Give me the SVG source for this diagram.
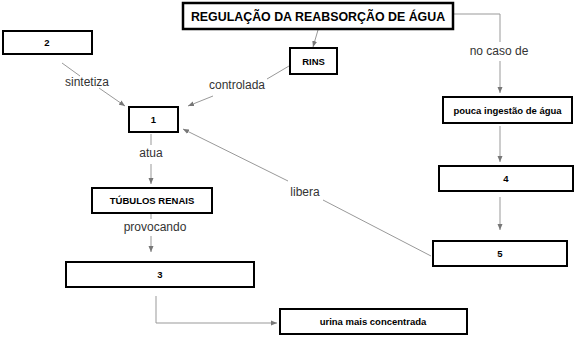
<svg xmlns="http://www.w3.org/2000/svg" width="577" height="337" viewBox="0 0 577 337">
<defs>
<style>
.box{fill:#fff;stroke:#000;stroke-width:2}
.nt{font-family:"Liberation Sans",Arial,sans-serif;font-weight:bold;font-size:9.5px;fill:#000;text-anchor:middle}
.tt{font-family:"Liberation Sans",Arial,sans-serif;font-weight:bold;font-size:12.4px;fill:#000;text-anchor:middle}
.lb{font-family:"Liberation Sans",Arial,sans-serif;font-size:12px;fill:#333;text-anchor:middle}
.c{fill:none;stroke:#999;stroke-width:1}
</style>
<marker id="ah" viewBox="0 0 6 6" refX="6" refY="3" markerWidth="6" markerHeight="6" markerUnits="userSpaceOnUse" orient="auto">
<path d="M0,0.5 L6,3 L0,5.5 Z" fill="#777"/>
</marker>
</defs>
<rect width="577" height="337" fill="#fff"/>
<g id="connectors">
<line class="c" x1="318" y1="30" x2="313" y2="47" marker-end="url(#ah)"/>
<polyline class="c" points="454,14 500,14 500,42"/>
<line class="c" x1="500" y1="61" x2="500" y2="93" marker-end="url(#ah)"/>
<text class="lb" x="499" y="55">no caso de</text>
<line class="c" x1="289" y1="66" x2="267" y2="79"/>
<line class="c" x1="213" y1="96" x2="188" y2="106" marker-end="url(#ah)"/>
<text class="lb" x="237" y="89">controlada</text>
<line class="c" x1="62" y1="63" x2="80" y2="76"/>
<line class="c" x1="99" y1="88" x2="125" y2="106" marker-end="url(#ah)"/>
<text class="lb" x="87" y="86">sintetiza</text>
<line class="c" x1="151" y1="134" x2="151" y2="145"/>
<line class="c" x1="151" y1="164" x2="151" y2="184" marker-end="url(#ah)"/>
<text class="lb" x="151" y="157">atua</text>
<line class="c" x1="151" y1="214" x2="151" y2="219"/>
<line class="c" x1="151" y1="236" x2="151" y2="252" marker-end="url(#ah)"/>
<text class="lb" x="155" y="231">provocando</text>
<line class="c" x1="500" y1="126" x2="500" y2="162" marker-end="url(#ah)"/>
<line class="c" x1="500" y1="197" x2="500" y2="230" marker-end="url(#ah)"/>
<line class="c" x1="431" y1="256" x2="323" y2="200"/>
<line class="c" x1="288" y1="181" x2="183" y2="129" marker-end="url(#ah)"/>
<text class="lb" x="305" y="196">libera</text>
<polyline class="c" points="156,296 156,323 277,323" marker-end="url(#ah)"/>
</g>
<g id="title">
<rect x="183" y="3" width="270" height="26" fill="#fff" stroke="#000" stroke-width="2.5"/>
<text class="tt" x="318" y="21">REGULAÇÃO DA REABSORÇÃO DE ÁGUA</text>
</g>
<g id="n2">
<rect class="box" x="3" y="31" width="89" height="23"/>
<text class="nt" x="47" y="46">2</text>
</g>
<g id="rins">
<rect class="box" x="290" y="48" width="47" height="26"/>
<text class="nt" x="313.5" y="64.5">RINS</text>
</g>
<g id="n1">
<rect class="box" x="129" y="107" width="49" height="25"/>
<text class="nt" x="153.5" y="123">1</text>
</g>
<g id="pouca">
<rect class="box" x="443" y="97" width="129" height="26"/>
<text class="nt" x="507.5" y="113.5">pouca ingestão de água</text>
</g>
<g id="tubulos">
<rect class="box" x="92" y="188" width="120" height="25"/>
<text class="nt" x="152" y="204">TÚBULOS RENAIS</text>
</g>
<g id="n4">
<rect class="box" x="439" y="166" width="134" height="25"/>
<text class="nt" x="506" y="182">4</text>
</g>
<g id="n5">
<rect class="box" x="433" y="241" width="134" height="25"/>
<text class="nt" x="500" y="257">5</text>
</g>
<g id="n3">
<rect class="box" x="66" y="262" width="188" height="25"/>
<text class="nt" x="160" y="278">3</text>
</g>
<g id="urina">
<rect class="box" x="280" y="309" width="187" height="25"/>
<text class="nt" x="373" y="325">urina mais concentrada</text>
</g>
</svg>
